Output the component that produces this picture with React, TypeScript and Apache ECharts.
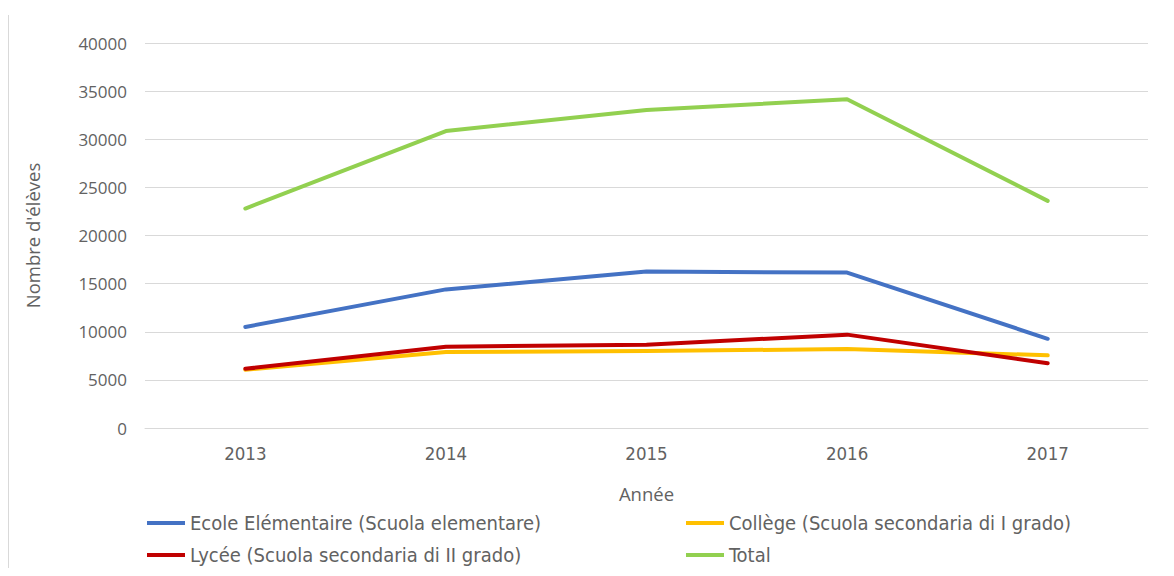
import React, { useEffect, useRef } from "react";
import * as echarts from "echarts";

const years = ["2013", "2014", "2015", "2016", "2017"];
const seriesNames = [
  "Ecole Elémentaire (Scuola elementare)",
  "Collège (Scuola secondaria di I grado)",
  "Lycée (Scuola secondaria di II grado)",
  "Total",
];
const ecole = [10500, 14400, 16250, 16150, 9270];
const college = [6050, 7900, 8000, 8200, 7550];
const lycee = [6150, 8450, 8650, 9700, 6720];
const total = [22800, 30850, 33050, 34150, 23600];
const colors = ["#4472C4", "#FFC000", "#C00000", "#92D050"];
const yTicks = { min: 0, max: 40000, interval: 5000 };

const FONT = "'Open Sans', 'DejaVu Sans', sans-serif";
const NARROW = "'Liberation Sans Narrow', 'DejaVu Sans Condensed', 'Liberation Sans', sans-serif";
const TXT = "#626262";

export default function App() {
  const ref = useRef<HTMLDivElement>(null);
  useEffect(() => {
    if (!ref.current) return;
    const chart = echarts.init(ref.current, undefined, { renderer: "svg" });
    const data = [ecole, college, lycee, total];
    const legendPos = [
      { left: 147, top: 513 },
      { left: 686, top: 513 },
      { left: 147, top: 545 },
      { left: 686, top: 545 },
    ];
    chart.setOption({
      animation: false,
      backgroundColor: "#ffffff",
      textStyle: { fontFamily: FONT },
      grid: { left: 145, right: 26, top: 43, bottom: 148, containLabel: false },
      xAxis: {
        type: "category",
        data: years,
        boundaryGap: true,
        axisLine: { show: true, lineStyle: { color: "#d9d9d9", width: 1 } },
        axisTick: { show: false },
        axisLabel: { color: TXT, fontSize: 18.5, margin: 16, fontFamily: NARROW },
        name: "Année",
        nameLocation: "middle",
        nameGap: 56,
        nameTextStyle: { color: TXT, fontSize: 18.5, fontFamily: FONT },
      },
      yAxis: {
        type: "value",
        min: yTicks.min,
        max: yTicks.max,
        interval: yTicks.interval,
        axisLine: { show: false },
        axisTick: { show: false },
        splitLine: { lineStyle: { color: "#d9d9d9", width: 1 } },
        axisLabel: {
          color: TXT,
          fontSize: 17,
          margin: 18,
          fontFamily: FONT,
          formatter: (v: number) => String(v),
        },
        name: "Nombre d'élèves",
        nameLocation: "middle",
        nameRotate: 90,
        nameGap: 103,
        nameTextStyle: { color: TXT, fontSize: 18.5, fontFamily: FONT },
      },
      legend: seriesNames.map((n, i) => ({
        data: [n],
        left: legendPos[i].left,
        top: legendPos[i].top,
        icon: "rect",
        itemWidth: 38,
        itemHeight: 4,
        padding: 0,
        textStyle: { color: TXT, fontSize: 20, fontFamily: NARROW },
      })),
      graphic: [
        {
          type: "line",
          shape: { x1: 8.5, y1: 15, x2: 8.5, y2: 576 },
          style: { stroke: "#d9d9d9", lineWidth: 1 },
        },
      ],
      series: seriesNames.map((n, i) => ({
        name: n,
        type: "line",
        data: data[i],
        symbol: "none",
        lineStyle: { color: colors[i], width: 4, cap: "round", join: "round" },
        itemStyle: { color: colors[i] },
      })),
    });
    return () => chart.dispose();
  }, []);
  return <div ref={ref} style={{ width: 1174, height: 576, margin: -8 }} />;
}
